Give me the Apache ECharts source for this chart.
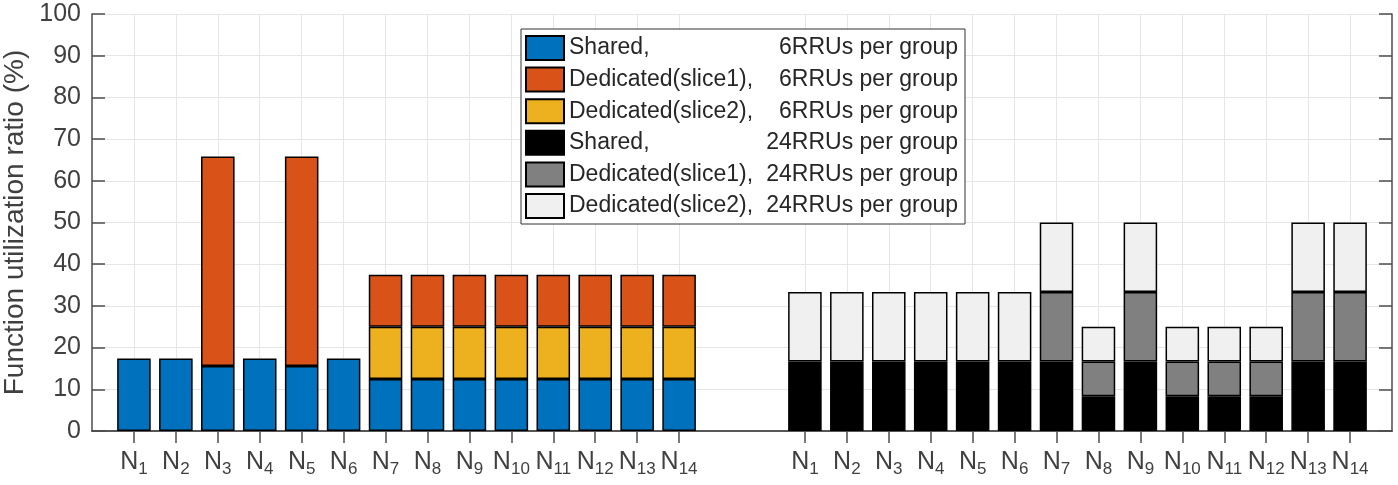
<!DOCTYPE html>
<html lang="en">
<head>
  <meta charset="UTF-8">
  <script src="https://cdn.jsdelivr.net/npm/echarts@6/dist/echarts.min.js"></script>
  <title>Function utilization ratio</title>
</head>
<body>
  <div id="chart"></div>
</body>
<style>
  html,body{
    padding: 0;
    margin: 0;
    background: #fff;
  }
  #chart {
    width: 1398px;
    height: 485px;
  }
</style>
</html>
<script>
// 32 slots on the x axis: 0 and 31 are the edges, 15-16 are the gap between groups
const categories = ['',
  'N1','N2','N3','N4','N5','N6','N7','N8','N9','N10','N11','N12','N13','N14',
  '','',
  'N1','N2','N3','N4','N5','N6','N7','N8','N9','N10','N11','N12','N13','N14',
  '']

const yTicks = [0, 100, 10]   // min, max, step

// 6 RRUs per group
const shared6 = [null,
  17.4, 17.4, 15.6, 17.4, 15.6, 17.4, 12.5, 12.5, 12.5, 12.5, 12.5, 12.5, 12.5, 12.5,
  null, null,
  null, null, null, null, null, null, null, null, null, null, null, null, null, null, null]
const dedicated1_6 = [null,
  null, null, 50.2, null, 50.2, null, 12.5, 12.5, 12.5, 12.5, 12.5, 12.5, 12.5, 12.5,
  null, null,
  null, null, null, null, null, null, null, null, null, null, null, null, null, null, null]
const dedicated2_6 = [null,
  null, null, null, null, null, null, 12.5, 12.5, 12.5, 12.5, 12.5, 12.5, 12.5, 12.5,
  null, null,
  null, null, null, null, null, null, null, null, null, null, null, null, null, null, null]

// 24 RRUs per group
const shared24 = [null,
  null, null, null, null, null, null, null, null, null, null, null, null, null, null,
  null, null,
  16.67, 16.67, 16.67, 16.67, 16.67, 16.67, 16.67, 8.33, 16.67, 8.33, 8.33, 8.33, 16.67, 16.67,
  null]
const dedicated1_24 = [null,
  null, null, null, null, null, null, null, null, null, null, null, null, null, null,
  null, null,
  null, null, null, null, null, null, 16.67, 8.33, 16.67, 8.33, 8.33, 8.33, 16.67, 16.67,
  null]
const dedicated2_24 = [null,
  null, null, null, null, null, null, null, null, null, null, null, null, null, null,
  null, null,
  16.67, 16.67, 16.67, 16.67, 16.67, 16.67, 16.67, 8.33, 16.67, 8.33, 8.33, 8.33, 16.67, 16.67,
  null]

const seriesNames = [
  'Shared, 6RRUs per group',
  'Dedicated(slice1), 6RRUs per group',
  'Dedicated(slice2), 6RRUs per group',
  'Shared, 24RRUs per group',
  'Dedicated(slice1), 24RRUs per group',
  'Dedicated(slice2), 24RRUs per group'
]
const seriesData = [shared6, dedicated1_6, dedicated2_6, shared24, dedicated1_24, dedicated2_24]
const seriesColors = ['#0072BD', '#D95319', '#EDB120', '#000000', '#808080', '#F0F0F0']
// order the segments are stacked in (slice2 sits under slice1 in the 6RRU group)
const stackOrder = [0, 2, 1, 3, 4, 5]

const font = 'Liberation Sans, Arial, sans-serif'
const axisColor = '#4d4d4d'
const hasTick = (index) => categories[index] !== ''

const option = {
  animation: false,
  textStyle: { fontFamily: font },
  grid: { left: 92, right: 6, top: 14, bottom: 54, containLabel: false, outerBoundsMode: 'none' },
  legend: {
    orient: 'vertical',
    left: 521,
    top: 29,
    padding: [6, 7, 5, 4],
    itemWidth: 38,
    itemHeight: 24,
    itemGap: 5.6,
    backgroundColor: '#fff',
    borderColor: '#333',
    borderWidth: 1,
    borderRadius: 0,
    icon: 'rect',
    data: seriesNames,
    formatter: (name) => {
      const p = name.split(', ')
      return '{a|' + p[0] + ',}{b|' + p[1] + '}'
    },
    textStyle: {
      lineHeight: 24,
      rich: {
        a: { fontSize: 23, fontFamily: font, color: '#262626', width: 192, height: 24, lineHeight: 24 },
        b: { fontSize: 23, fontFamily: font, color: '#262626', width: 197, height: 24, align: 'right', lineHeight: 24 }
      }
    }
  },
  xAxis: [
    {
      type: 'category',
      data: categories,
      boundaryGap: false,
      axisLine: { lineStyle: { color: axisColor, width: 1.5 } },
      axisTick: { inside: true, length: 12, interval: hasTick, lineStyle: { color: axisColor, width: 1.5 } },
      splitLine: { show: true, interval: hasTick, lineStyle: { color: '#e6e6e6', width: 1 } },
      axisLabel: {
        interval: 0,
        margin: 22,
        formatter: (v) => v ? '{n|N}{s|' + v.slice(1) + '}' : '',
        rich: {
          n: { fontSize: 25, fontFamily: font, color: '#404040', verticalAlign: 'bottom', lineHeight: 25, padding: [0, 0, 3, 0] },
          s: { fontSize: 17, fontFamily: font, color: '#404040', verticalAlign: 'bottom', lineHeight: 17 }
        }
      }
    },
    {
      type: 'category',
      position: 'top',
      data: categories,
      boundaryGap: false,
      axisLine: { lineStyle: { color: axisColor, width: 1.5 } },
      axisTick: { inside: true, length: 12, interval: hasTick, lineStyle: { color: axisColor, width: 1.5 } },
      axisLabel: { show: false },
      splitLine: { show: false }
    }
  ],
  yAxis: [
    {
      type: 'value',
      min: yTicks[0],
      max: yTicks[1],
      interval: yTicks[2],
      name: 'Function utilization ratio (%)',
      nameLocation: 'middle',
      nameGap: 63,
      nameMoveOverlap: false,
      nameTextStyle: { fontSize: 28, color: '#404040', fontFamily: font },
      axisLine: { show: true, lineStyle: { color: axisColor, width: 1.5 } },
      axisTick: { show: true, inside: true, length: 13, lineStyle: { color: axisColor, width: 1.5 } },
      axisLabel: { fontSize: 25, color: '#404040', margin: 11, fontFamily: font },
      splitLine: { show: true, lineStyle: { color: '#e6e6e6', width: 1 } }
    },
    {
      type: 'value',
      position: 'right',
      min: yTicks[0],
      max: yTicks[1],
      interval: yTicks[2],
      axisLine: { show: true, lineStyle: { color: axisColor, width: 1.5 } },
      axisTick: { show: true, inside: true, length: 13, lineStyle: { color: axisColor, width: 1.5 } },
      axisLabel: { show: false },
      splitLine: { show: false }
    }
  ],
  series: stackOrder.map((i) => ({
    name: seriesNames[i],
    type: 'bar',
    stack: 'total',
    barWidth: '80%',
    data: seriesData[i],
    itemStyle: { color: seriesColors[i], borderColor: '#000', borderWidth: 1.5 }
  }))
}

const chartDom = document.getElementById('chart')
const myChart = echarts.init(chartDom)
myChart.setOption(option)
</script>
